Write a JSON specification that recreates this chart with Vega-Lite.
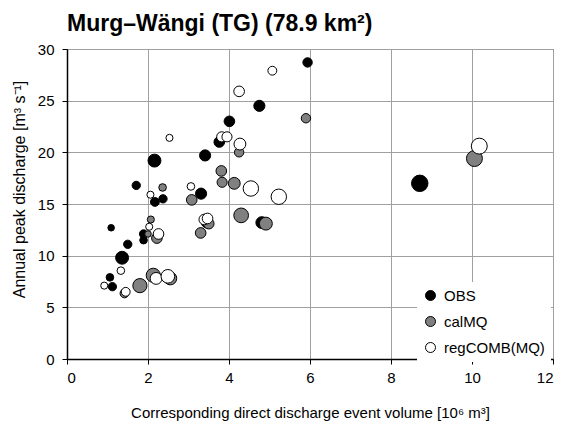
{
  "$schema": "https://vega.github.io/schema/vega-lite/v6.json",
  "width": 486,
  "height": 310,
  "autosize": {"type": "none"},
  "padding": {"left": 67, "top": 49, "right": 10, "bottom": 67},
  "background": "white",
  "title": {"text": "Murg–Wängi (TG) (78.9 km²)", "anchor": "start", "frame": "group", "font": "Liberation Sans", "fontSize": 23, "fontWeight": "bold", "color": "black", "offset": 6},
  "config": {
    "view": {"stroke": "#333333", "strokeWidth": 1},
    "axis": {
      "labelFont": "Liberation Sans", "labelFontSize": 15, "labelColor": "black",
      "titleFont": "Liberation Sans", "titleFontWeight": "normal", "titleColor": "black",
      "domainColor": "black", "domainWidth": 1.5, "tickColor": "black", "tickSize": 5,
      "gridColor": "#a0a0a0", "gridWidth": 1, "gridOpacity": 1
    }
  },
  "data": {"values": [
    {"series": "OBS", "volume": 5.94, "peak": 28.7, "mag": 5.3},
    {"series": "OBS", "volume": 4.75, "peak": 24.5, "mag": 6.3},
    {"series": "OBS", "volume": 4.01, "peak": 23.0, "mag": 6.0},
    {"series": "OBS", "volume": 3.76, "peak": 21.0, "mag": 6.0},
    {"series": "OBS", "volume": 3.41, "peak": 19.7, "mag": 6.3},
    {"series": "OBS", "volume": 2.16, "peak": 19.2, "mag": 7.3},
    {"series": "OBS", "volume": 1.71, "peak": 16.8, "mag": 4.7},
    {"series": "OBS", "volume": 3.31, "peak": 16.0, "mag": 6.3},
    {"series": "OBS", "volume": 2.17, "peak": 15.2, "mag": 5.0},
    {"series": "OBS", "volume": 2.37, "peak": 15.5, "mag": 4.7},
    {"series": "OBS", "volume": 8.71, "peak": 17.0, "mag": 9.3},
    {"series": "OBS", "volume": 4.81, "peak": 13.2, "mag": 6.7},
    {"series": "OBS", "volume": 3.45, "peak": 13.2, "mag": 6.0},
    {"series": "OBS", "volume": 1.09, "peak": 12.7, "mag": 3.7},
    {"series": "OBS", "volume": 1.89, "peak": 12.1, "mag": 4.7},
    {"series": "OBS", "volume": 1.89, "peak": 11.5, "mag": 4.3},
    {"series": "OBS", "volume": 1.50, "peak": 11.1, "mag": 4.7},
    {"series": "OBS", "volume": 1.36, "peak": 9.8, "mag": 7.3},
    {"series": "OBS", "volume": 1.06, "peak": 7.9, "mag": 4.3},
    {"series": "OBS", "volume": 1.12, "peak": 7.0, "mag": 4.7},
    {"series": "calMQ", "volume": 5.90, "peak": 23.3, "mag": 5.3},
    {"series": "calMQ", "volume": 4.25, "peak": 20.0, "mag": 5.3},
    {"series": "calMQ", "volume": 3.81, "peak": 18.2, "mag": 6.0},
    {"series": "calMQ", "volume": 3.83, "peak": 17.1, "mag": 5.7},
    {"series": "calMQ", "volume": 4.13, "peak": 17.0, "mag": 6.7},
    {"series": "calMQ", "volume": 2.36, "peak": 16.6, "mag": 4.3},
    {"series": "calMQ", "volume": 3.08, "peak": 15.4, "mag": 6.0},
    {"series": "calMQ", "volume": 4.30, "peak": 13.9, "mag": 8.3},
    {"series": "calMQ", "volume": 4.91, "peak": 13.1, "mag": 7.3},
    {"series": "calMQ", "volume": 10.06, "peak": 19.4, "mag": 9.0},
    {"series": "calMQ", "volume": 2.07, "peak": 13.5, "mag": 4.0},
    {"series": "calMQ", "volume": 2.0, "peak": 12.1, "mag": 3.7},
    {"series": "calMQ", "volume": 2.22, "peak": 11.7, "mag": 6.0},
    {"series": "calMQ", "volume": 1.42, "peak": 6.35, "mag": 5.0},
    {"series": "calMQ", "volume": 1.80, "peak": 7.1, "mag": 8.0},
    {"series": "calMQ", "volume": 2.13, "peak": 8.1, "mag": 8.0},
    {"series": "calMQ", "volume": 2.55, "peak": 7.8, "mag": 7.3},
    {"series": "calMQ", "volume": 3.30, "peak": 12.2, "mag": 6.0},
    {"series": "calMQ", "volume": 3.50, "peak": 13.1, "mag": 6.0},
    {"series": "regCOMB(MQ)", "volume": 4.25, "peak": 25.9, "mag": 6.0},
    {"series": "regCOMB(MQ)", "volume": 3.82, "peak": 21.5, "mag": 5.7},
    {"series": "regCOMB(MQ)", "volume": 3.95, "peak": 21.5, "mag": 5.7},
    {"series": "regCOMB(MQ)", "volume": 2.53, "peak": 21.4, "mag": 4.0},
    {"series": "regCOMB(MQ)", "volume": 4.27, "peak": 20.8, "mag": 6.7},
    {"series": "regCOMB(MQ)", "volume": 3.06, "peak": 16.7, "mag": 4.3},
    {"series": "regCOMB(MQ)", "volume": 2.06, "peak": 15.9, "mag": 4.0},
    {"series": "regCOMB(MQ)", "volume": 5.07, "peak": 27.9, "mag": 5.0},
    {"series": "regCOMB(MQ)", "volume": 4.54, "peak": 16.5, "mag": 8.7},
    {"series": "regCOMB(MQ)", "volume": 5.23, "peak": 15.7, "mag": 8.7},
    {"series": "regCOMB(MQ)", "volume": 10.18, "peak": 20.6, "mag": 9.0},
    {"series": "regCOMB(MQ)", "volume": 2.03, "peak": 12.8, "mag": 4.0},
    {"series": "regCOMB(MQ)", "volume": 2.26, "peak": 12.1, "mag": 6.0},
    {"series": "regCOMB(MQ)", "volume": 1.33, "peak": 8.55, "mag": 4.3},
    {"series": "regCOMB(MQ)", "volume": 0.92, "peak": 7.1, "mag": 4.0},
    {"series": "regCOMB(MQ)", "volume": 1.45, "peak": 6.5, "mag": 5.0},
    {"series": "regCOMB(MQ)", "volume": 2.20, "peak": 7.8, "mag": 6.7},
    {"series": "regCOMB(MQ)", "volume": 2.49, "peak": 8.0, "mag": 7.7},
    {"series": "regCOMB(MQ)", "volume": 3.39, "peak": 13.5, "mag": 6.0},
    {"series": "regCOMB(MQ)", "volume": 3.47, "peak": 13.6, "mag": 6.0}
  ]},
  "mark": {"type": "circle", "stroke": "black", "strokeWidth": 1, "opacity": 1, "fillOpacity": 1},
  "encoding": {
    "x": {"field": "volume", "type": "quantitative", "scale": {"domain": [0, 12], "nice": false},
      "axis": {"values": [0, 2, 4, 6, 8, 10, 12], "title": "Corresponding direct discharge event volume [10⁶ m³]", "titleFontSize": 15, "titlePadding": 20, "labelPadding": 6}},
    "y": {"field": "peak", "type": "quantitative", "scale": {"domain": [0, 30], "nice": false},
      "axis": {"values": [0, 5, 10, 15, 20, 25, 30], "title": "Annual peak discharge [m³ s⁻¹]", "titleFontSize": 16, "titlePadding": 10, "titleY": 140, "labelPadding": 8}},
    "fill": {"field": "series", "type": "nominal",
      "scale": {"domain": ["OBS", "calMQ", "regCOMB(MQ)"], "range": ["black", "#808080", "white"]},
      "legend": {"orient": "none", "legendX": 350, "legendY": 233, "title": null, "fillColor": "white", "padding": 6,
        "symbolType": "circle", "symbolSize": 100, "symbolStrokeColor": "black", "symbolStrokeWidth": 1, "symbolOpacity": 1,
        "labelFont": "Liberation Sans", "labelFontSize": 15, "labelColor": "black", "rowPadding": 10, "labelOffset": 6}},
    "size": {"field": "mag", "type": "quantitative", "scale": {"type": "pow", "exponent": 2, "domain": [0, 10], "range": [0, 314]}, "legend": null}
  }
}
